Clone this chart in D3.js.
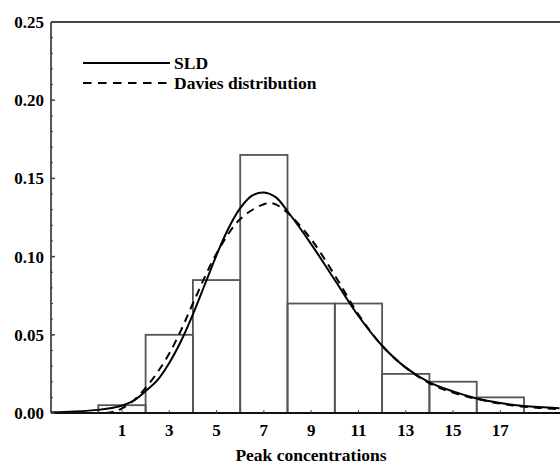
<!DOCTYPE html>
<html><head><meta charset="utf-8">
<script src="https://cdn.jsdelivr.net/npm/d3@7/dist/d3.min.js"></script>
<style>body{margin:0;background:#fff}svg{display:block}</style>
</head><body>
<svg id="c" width="560" height="464"></svg>
<script>
// Histogram bins (left edge) and heights
const binStarts = [0, 2, 4, 6, 8, 10, 12, 14, 16];
const binWidth = 2;
const binValues = [0.005, 0.05, 0.085, 0.165, 0.07, 0.07, 0.025, 0.02, 0.01];

// SLD curve points
const sldX = [-2, -1, 0, 0.5, 1, 1.5, 2, 2.5, 3, 3.5, 4, 4.5, 5, 5.5, 6, 6.5, 7, 7.5, 8, 9, 10, 11, 12, 13, 14, 15, 16, 17, 18, 19.5];
const sldY = [0.0004, 0.001, 0.002, 0.003, 0.0047, 0.008, 0.014, 0.021, 0.032, 0.046, 0.063, 0.082, 0.101, 0.118, 0.131, 0.139, 0.141, 0.138, 0.129, 0.108, 0.085, 0.062, 0.043, 0.029, 0.0196, 0.0138, 0.0093, 0.0064, 0.0044, 0.003];

// Davies distribution curve points
const davX = [0.3, 0.7, 1, 1.5, 2, 2.5, 3, 3.5, 4, 5, 6, 7, 7.4, 8, 9, 10, 11, 12, 13, 14, 15, 16, 17, 18, 19.5];
const davY = [0, 0.001, 0.003, 0.008, 0.016, 0.026, 0.038, 0.053, 0.07, 0.102, 0.124, 0.1335, 0.134, 0.128, 0.111, 0.088, 0.063, 0.043, 0.029, 0.019, 0.013, 0.009, 0.006, 0.004, 0.0025];

const xTicks = [1, 3, 5, 7, 9, 11, 13, 15, 17];
const yTicks = [0, 0.05, 0.10, 0.15, 0.20, 0.25];
const yMinorTicks = d3.range(0, 0.2501, 0.01);
const legendLabels = ["SLD", "Davies distribution"];
const xTitle = "Peak concentrations";

const svg = d3.select("#c");
const font = "'Liberation Serif','Times New Roman',serif";
const x = d3.scaleLinear().domain([-2, 19.5]).range([51, 559.5]);
const y = d3.scaleLinear().domain([0, 0.25]).range([413, 22]);

// Bars
svg.append("g").selectAll("rect").data(binStarts).join("rect")
  .attr("x", d => x(d))
  .attr("width", d => x(d + binWidth) - x(d))
  .attr("y", (d, i) => y(binValues[i]))
  .attr("height", (d, i) => y(0) - y(binValues[i]))
  .attr("fill", "none").attr("stroke", "#555").attr("stroke-width", 1.8);

// Curves
const line = d3.line().x(d => x(d[0])).y(d => y(d[1])).curve(d3.curveCatmullRom);
svg.append("path").datum(sldX.map((v, i) => [v, sldY[i]]))
  .attr("d", line).attr("fill", "none").attr("stroke", "#000").attr("stroke-width", 2);
svg.append("path").datum(davX.map((v, i) => [v, davY[i]]))
  .attr("d", line).attr("fill", "none").attr("stroke", "#000").attr("stroke-width", 2)
  .attr("stroke-dasharray", "8,6");

// Frame: left axis, top line, bottom axis
svg.append("line").attr("x1", x(-2)).attr("x2", x(-2)).attr("y1", y(0.25)).attr("y2", y(0))
  .attr("stroke", "#444").attr("stroke-width", 1.8);
svg.append("line").attr("x1", x(-2)).attr("x2", 560).attr("y1", y(0.25)).attr("y2", y(0.25))
  .attr("stroke", "#444").attr("stroke-width", 1.8);
svg.append("line").attr("x1", x(-2)).attr("x2", 560).attr("y1", y(0)).attr("y2", y(0))
  .attr("stroke", "#111").attr("stroke-width", 2);

// Y minor and major ticks (inward)
svg.append("g").selectAll("line").data(yMinorTicks).join("line")
  .attr("x1", x(-2)).attr("x2", x(-2) + 2)
  .attr("y1", d => y(d)).attr("y2", d => y(d))
  .attr("stroke", "#444").attr("stroke-width", 1);
svg.append("g").selectAll("line").data(yTicks).join("line")
  .attr("x1", x(-2)).attr("x2", x(-2) + 4)
  .attr("y1", d => y(d)).attr("y2", d => y(d))
  .attr("stroke", "#444").attr("stroke-width", 1.5);
svg.append("g").selectAll("text").data(yTicks).join("text")
  .attr("x", 44).attr("y", d => y(d) + 6)
  .attr("text-anchor", "end")
  .attr("font-family", font).attr("font-weight", "bold").attr("font-size", 17)
  .text(d => d3.format(".2f")(d));

// X ticks (inward) and labels
svg.append("g").selectAll("line").data(xTicks).join("line")
  .attr("x1", d => x(d)).attr("x2", d => x(d))
  .attr("y1", y(0)).attr("y2", y(0) - 3)
  .attr("stroke", "#444").attr("stroke-width", 1);
svg.append("g").selectAll("text").data(xTicks).join("text")
  .attr("x", d => x(d)).attr("y", 436)
  .attr("text-anchor", "middle")
  .attr("font-family", font).attr("font-weight", "bold").attr("font-size", 17)
  .text(d => d);

svg.append("text").attr("x", 311).attr("y", 461).attr("text-anchor", "middle")
  .attr("font-family", font).attr("font-weight", "bold").attr("font-size", 17.5)
  .text(xTitle);

// Legend
const lg = svg.append("g");
[0, 1].forEach(i => {
  const ly = 63 + i * 20;
  lg.append("line").attr("x1", 83).attr("x2", 170).attr("y1", ly).attr("y2", ly)
    .attr("stroke", "#000").attr("stroke-width", 2)
    .attr("stroke-dasharray", i === 1 ? "8.5,6.5" : null);
  lg.append("text").attr("x", 174).attr("y", ly + 6)
    .attr("font-family", font).attr("font-weight", "bold").attr("font-size", 17.5)
    .text(legendLabels[i]);
});
</script>
</body></html>
